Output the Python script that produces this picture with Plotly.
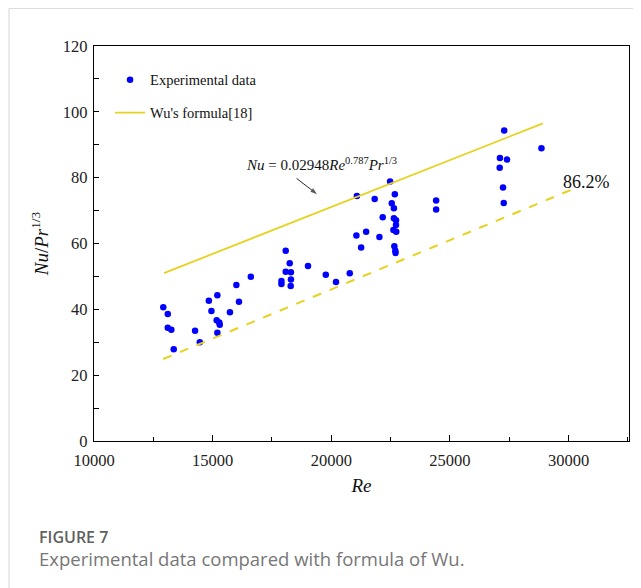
import plotly.graph_objects as go

# ---- data ----
re_exp = [12920, 13110, 13110, 13260, 13360, 14260, 14460, 14840, 15200, 14950,
          15170, 15280, 15300, 15200, 16000, 16110, 15730, 16610, 18080, 18250,
          18080, 18300, 17900, 17900, 18300, 18290, 19020, 19770, 20200, 20780,
          21060, 21470, 21260, 22030, 22660, 22700, 22710, 22480, 21080, 21830,
          22680, 22550, 22640, 22170, 22640, 22730, 22730, 22620, 22740, 24420,
          24420, 27240, 27270, 27290, 28860, 27110, 27410, 27100]
nu_exp = [40.6, 38.6, 34.4, 33.8, 27.9, 33.5, 30.0, 42.6, 44.3, 39.5,
          36.7, 36.0, 35.3, 32.9, 47.4, 42.3, 39.1, 49.9, 57.8, 54.0,
          51.4, 51.3, 48.6, 47.7, 49.1, 47.1, 53.2, 50.5, 48.3, 51.0,
          62.4, 63.6, 58.8, 62.0, 59.2, 57.8, 57.1, 78.8, 74.4, 73.5,
          75.0, 72.2, 70.7, 68.0, 67.7, 67.1, 65.6, 64.1, 63.6, 73.1,
          70.3, 77.0, 72.3, 94.3, 88.9, 86.0, 85.5, 83.0]

re_wu = [12950, 28920]
nu_wu = [51.0, 96.5]

re_dev = [12920, 30180]
nu_dev = [24.9, 76.5]

# pointer from the formula label towards Wu's line (tail, head)
arrow_re = [18536, 19400]
arrow_nu = [79.8, 75.0]

x_ticks = [10000, 15000, 20000, 25000, 30000]
x_ticktext = ["10000", "15000", "20000", "25000", "30000"]
y_ticks = [0, 20, 40, 60, 80, 100, 120]

SERIF = "Liberation Serif, Times New Roman, serif"
SANS = "Open Sans, Noto Sans, sans-serif"
YELLOW = "#E6D21E"

fig = go.Figure()
fig.add_trace(go.Scatter(
    x=re_exp, y=nu_exp, mode="markers", name="Experimental data",
    legendgroup="a",
    marker=dict(color="#0000FF", size=6.5, symbol="circle", line=dict(width=0)),
))
fig.add_trace(go.Scatter(
    x=re_wu, y=nu_wu, mode="lines", name="Wu's formula[18]",
    legendgroup="b",
    line=dict(color=YELLOW, width=1.8),
))
fig.add_trace(go.Scatter(
    x=re_dev, y=nu_dev, mode="lines", showlegend=False,
    line=dict(color=YELLOW, width=2, dash="dash"),
))
fig.add_trace(go.Scatter(
    x=arrow_re, y=arrow_nu, mode="lines+markers", showlegend=False, hoverinfo="skip",
    line=dict(color="#111", width=0.9),
    marker=dict(symbol=["circle", "arrow"], size=[0, 7], angleref="previous",
                color="#111", line=dict(width=0)),
))

axis_common = dict(
    showline=True, linecolor="black", linewidth=1.3, mirror=True,
    showgrid=False, zeroline=False, automargin=False,
    ticks="inside", tickcolor="black", tickwidth=1.2,
    tickfont=dict(family=SERIF, size=16.5, color="#222"),
)

fig.update_xaxes(
    range=[10000, 32550], tickvals=x_ticks, ticktext=x_ticktext, ticklen=6,
    ticklabelstandoff=4,
    minor=dict(ticks="inside", dtick=2500, tick0=10000, ticklen=4, tickcolor="black", tickwidth=1.2),
    title=dict(text="<i>Re</i>", font=dict(family=SERIF, size=19, color="#111"), standoff=9),
    **axis_common,
)
fig.update_yaxes(
    range=[0, 120], tickvals=y_ticks, ticklen=5,
    ticklabelstandoff=2,
    minor=dict(ticks="inside", dtick=10, tick0=0, ticklen=5, tickcolor="black", tickwidth=1.2),
    title=dict(text="<i>Nu</i>/<i>Pr</i><sup>1/3</sup>", font=dict(family=SERIF, size=19, color="#111"), standoff=9),
    **axis_common,
)

fig.update_layout(
    width=633, height=580,
    margin=dict(l=86, r=12, t=38, b=147),
    paper_bgcolor="white", plot_bgcolor="white",
    showlegend=True,
    legend=dict(
        x=0.03, y=0.955, xanchor="left", yanchor="top",
        bgcolor="rgba(0,0,0,0)", borderwidth=0,
        font=dict(family=SERIF, size=14.5, color="#111"),
        traceorder="grouped", tracegroupgap=11,
    ),
    annotations=[
        dict(x=19600, y=84.2, xref="x", yref="y",
             text="<i>Nu</i> = 0.02948<i>Re</i><sup>0.787</sup><i>Pr</i><sup>1/3</sup>",
             showarrow=False, font=dict(family=SERIF, size=15, color="#111")),
        dict(x=30743, y=78.8, xref="x", yref="y", text="86.2%",
             showarrow=False, font=dict(family=SERIF, size=18, color="#111")),
        dict(x=-0.107, y=-0.242, xref="paper", yref="paper", xanchor="left", yanchor="middle",
             text="FIGURE 7", showarrow=False,
             font=dict(family=SANS, size=16, color="#5f5f5f", weight=600)),
        dict(x=-0.107, y=-0.298, xref="paper", yref="paper", xanchor="left", yanchor="middle",
             text="Experimental data compared with formula of Wu.", showarrow=False,
             font=dict(family=SANS, size=18.5, color="#777")),
    ],
    shapes=[
        dict(type="line", xref="paper", yref="paper", x0=-0.1589, x1=-0.1589, y0=1.095, y1=-0.40,
             line=dict(color="#DDDDDD", width=1.2)),
        dict(type="line", xref="paper", yref="paper", x0=-0.1589, x1=1.05, y0=1.095, y1=1.095,
             line=dict(color="#DDDDDD", width=1.2)),
    ],
)

fig.write_html("out.html")
